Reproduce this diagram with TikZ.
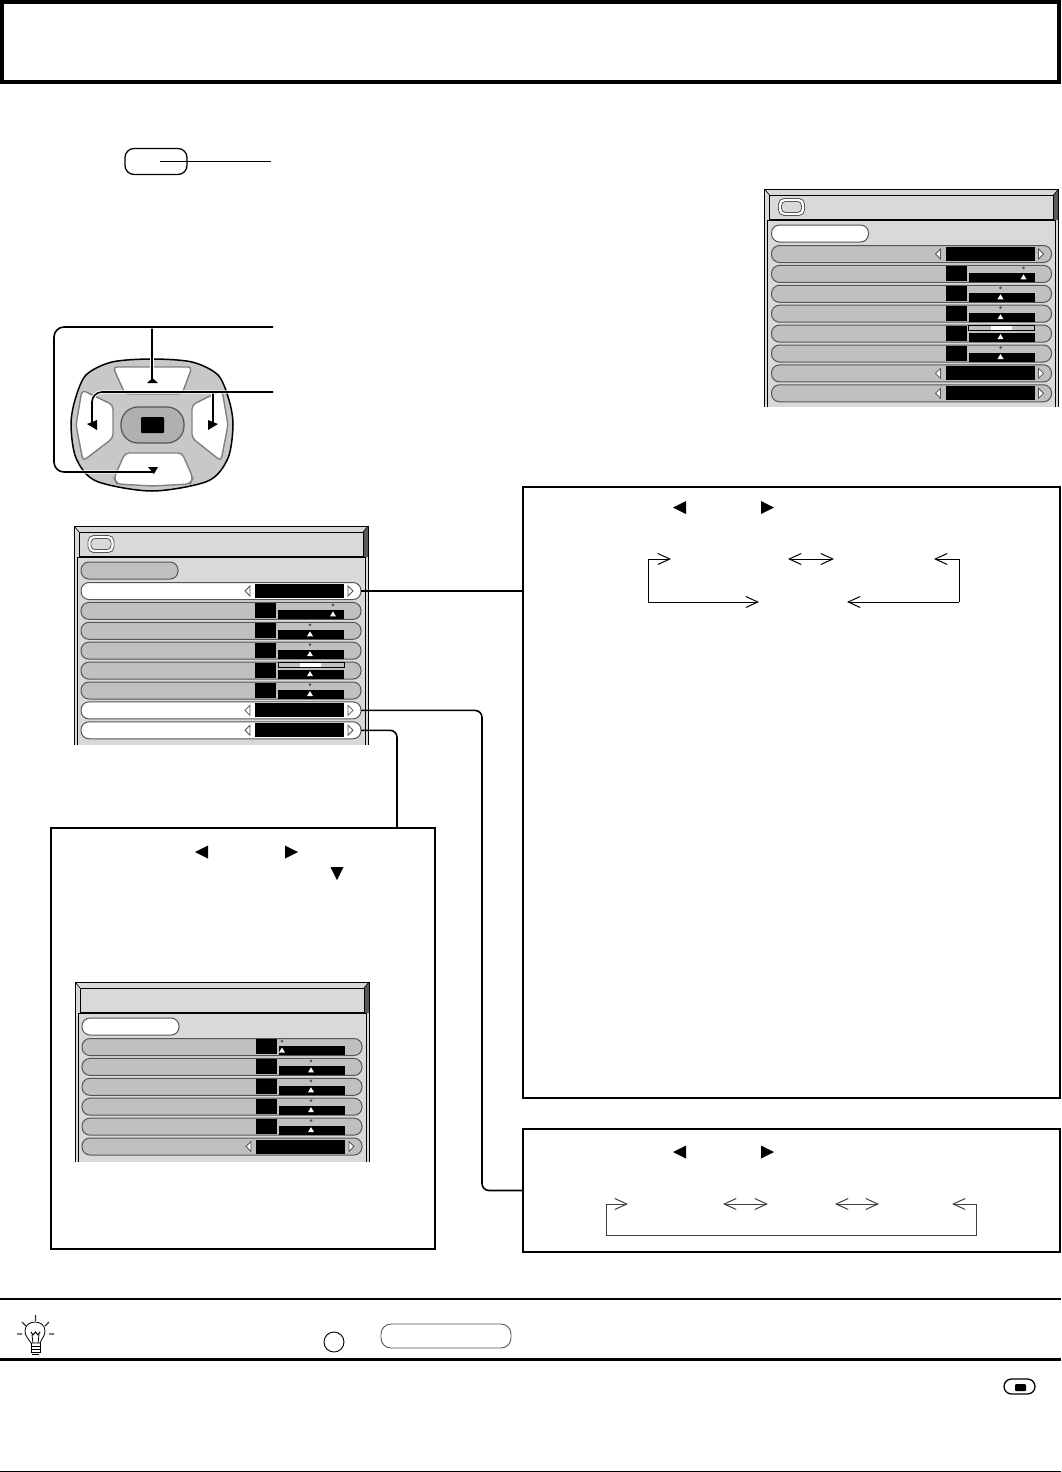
\documentclass[tikz,border=0pt]{standalone}
\usepackage{tikz}
\usetikzlibrary{arrows.meta,positioning}
\definecolor{menubody}{HTML}{D9D9D9}
\definecolor{menurowgray}{HTML}{C0C0C0}
\definecolor{menuedge}{HTML}{555555}
\definecolor{padgray}{HTML}{C8C8C8}
\definecolor{padoval}{HTML}{B0B0B0}
\tikzset{
  infobox/.style={draw, line width=2pt, inner sep=0pt, outer sep=0pt},
  menurow/.style={draw=menuedge, line width=1pt, rounded corners=8pt, minimum height=17pt, inner sep=0pt, outer sep=0pt},
  menuicon/.style={draw=menuedge, fill=white, line width=.8pt, rounded corners=5.5pt, minimum width=26pt, minimum height=17pt, inner sep=0pt},
  menuiconin/.style={draw=menuedge, fill=menubody, line width=.8pt, rounded corners=4pt, minimum width=20pt, minimum height=11pt, inner sep=0pt},
  menutri/.style={draw=menuedge, fill=white, line width=.8pt},
  connector/.style={line width=1.6pt, rounded corners=7pt},
  padline/.style={line width=1.6pt, rounded corners=10pt, preaction={draw=white, line width=3.4pt}},
  padbutton/.style={draw=gray, fill=white, line width=1.4pt, rounded corners=4pt},
  cycline/.style={line width=1pt, -{Straight Barb[length=12pt,width=11pt,line width=1pt]}},
  cycboth/.style={line width=1pt, {Straight Barb[length=12pt,width=11pt,line width=1pt]}-{Straight Barb[length=12pt,width=11pt,line width=1pt]}}
}
\newcommand{\menupanel}[6]{
  \begin{scope}[shift={(#2,#3)}]
    \fill[menubody] (0,0) rectangle (294,#4);
    \fill[gray!70!black] (289,6) -- (294,0) -- (294,31) -- (289,31) -- cycle;
    \draw[line width=1pt] (0,#4) -- (0,0) -- (294,0) -- (294,#4);
    \draw[line width=.6pt] (0,0) -- (5,6) (294,0) -- (289,6);
    \draw[line width=1pt] (5,6) rectangle (289,30);
    \draw[line width=1pt] (3,#4) -- (3,31) -- (291,31) -- (291,#4);
    \node[menurow, fill=#5, minimum width=97pt] (#1pill) at (55.5,44.5) {};
    \foreach \rownum/\rowfill/\rowmark/\rowstrip in {#6}{
      \pgfmathsetmacro\rowy{65+19.9*(\rownum-1)}
      \node[menurow, fill=\rowfill, minimum width=280pt] (#1row\rownum) at (147,\rowy) {};
      \ifnum\rowmark=0
        \draw[menutri] (176,\rowy-5) -- (176,\rowy+5) -- (171,\rowy) -- cycle;
        \draw[menutri] (274,\rowy-5) -- (274,\rowy+5) -- (279,\rowy) -- cycle;
        \fill (181,\rowy-7) rectangle (270,\rowy+7);
      \else
        \fill (181,\rowy-8) rectangle (202,\rowy+7);
        \fill (204,\rowy-1) rectangle (270,\rowy+8);
        \fill[white] (\rowmark-3,\rowy+5.5) -- (\rowmark+3,\rowy+5.5) -- (\rowmark,\rowy+.5) -- cycle;
        \ifnum\rowstrip=1
          \draw[line width=.7pt, fill=menurowgray] (204,\rowy-8) rectangle (270,\rowy-3);
          \fill[white] (226,\rowy-7.6) rectangle (247,\rowy-3.4);
        \else
          \fill[menuedge] (\rowmark,\rowy-6) circle (1.5pt);
        \fi
      \fi
    }
  \end{scope}
}
\begin{document}
\begin{tikzpicture}[x=1pt,y=-1pt]
  \useasboundingbox (0,0) rectangle (1061,1472);

  \node[draw, line width=4pt, minimum width=1057pt, minimum height=80pt, inner sep=0pt] (header) at (530.5,42) {};

  \node[draw, line width=1.3pt, rounded corners=9pt, minimum width=62pt, minimum height=26pt, inner sep=0pt] (menubtn) at (156,161.5) {};
  \coordinate (menuin) at (160,161.5);
  \coordinate (menuout) at (271,161.5);
  \draw[line width=1.6pt] (menuin) -- (menuout);

  \draw[fill=padgray, line width=1.5pt] plot[smooth cycle] coordinates {(152,359) (192,362) (218,375) (229,400) (233,425) (228,458) (208,481) (152,491) (96,481) (76,458) (71,425) (75,400) (86,375) (112,362)};
  \draw[padbutton] (113,367) -- (192,367) -- (182,394) -- (125,394) -- cycle;
  \draw[padbutton] (125,453) -- (182,453) -- (193,478) -- (190,484) -- (152,486) -- (117,484) -- (114,478) -- cycle;
  \draw[padbutton] (82,390) -- (113,405) -- (113,438) -- (83,461) -- (76,425) -- cycle;
  \draw[padbutton] (222,390) -- (192,405) -- (192,438) -- (221,461) -- (228,425) -- cycle;
  \node[draw=menuedge, fill=padoval, line width=1.2pt, rounded corners=17pt, minimum width=63pt, minimum height=36pt, inner sep=0pt] (padmid) at (152.5,425) {};
  \node[fill=black, rounded corners=1pt, minimum width=23pt, minimum height=16pt, inner sep=0pt] (padkey) at (152.5,425) {};

  \coordinate (updown) at (273,327);
  \coordinate (leftright) at (273,392);
  \coordinate (upkey) at (152,380);
  \coordinate (downkey) at (154,472);
  \coordinate (leftkey) at (92,425);
  \coordinate (rightkey) at (213,425);
  \draw[padline] (152,327) -- (upkey);
  \draw[padline] (213,392) -- (rightkey);
  \draw[padline] (updown) -- (54,327) -- (54,472) -- (downkey);
  \draw[padline] (leftright) -- (92,392) -- (leftkey);
  \fill (147,383) -- (152.5,378) -- (158,383) -- cycle;
  \fill (148,467) -- (158,467) -- (154,474) -- cycle;
  \fill (87,424) -- (97,420) -- (97,430) -- cycle;
  \fill (218,424) -- (208,420) -- (208,430) -- cycle;

  \menupanel{top}{764.5}{189}{218}{white}{1/menurowgray/0/0,2/menurowgray/259/0,3/menurowgray/236/0,4/menurowgray/236/0,5/menurowgray/236/1,6/menurowgray/236/0,7/menurowgray/0/0,8/menurowgray/0/0}
  \node[menuicon] (topicon) at (791.5,207) {};
  \node[menuiconin] (topiconin) at (791.5,207) {};

  \menupanel{mid}{74}{526}{219}{menurowgray}{1/white/0/0,2/menurowgray/259/0,3/menurowgray/236/0,4/menurowgray/236/0,5/menurowgray/236/1,6/menurowgray/236/0,7/white/0/0,8/white/0/0}
  \node[menuicon] (midicon) at (101,544) {};
  \node[menuiconin] (midiconin) at (101,544) {};

  \node[infobox, minimum width=537pt, minimum height=611pt] (bigbox) at (791.5,792.5) {};
  \node[infobox, minimum width=537pt, minimum height=123pt, below=31pt of bigbox] (lowbox) {};
  \node[infobox, minimum width=384pt, minimum height=421pt] (leftbox) at (243,1038.5) {};

  \menupanel{low}{75}{982}{180}{white}{1/menurowgray/207/0,2/menurowgray/236/0,3/menurowgray/236/0,4/menurowgray/236/0,5/menurowgray/236/0,6/menurowgray/0/0}

  \coordinate (midturn) at (482,950);
  \coordinate (leftturn) at (397,828);
  \draw[line width=1.6pt] (midrow1.east) -- (midrow1.east -| bigbox.west);
  \draw[connector] (midrow7.east) -| (midturn) |- (lowbox.west);
  \draw[connector] (midrow8.east) -| (leftturn);

  \fill (673,507.5) -- ++(13,-6.5) -- ++(0,13) -- cycle;
  \fill (774,507.5) -- ++(-13,-6.5) -- ++(0,13) -- cycle;
  \fill (673,1152) -- ++(13,-6.5) -- ++(0,13) -- cycle;
  \fill (774,1152) -- ++(-13,-6.5) -- ++(0,13) -- cycle;
  \fill (195,852) -- ++(13,-6.5) -- ++(0,13) -- cycle;
  \fill (298,852) -- ++(-13,-6.5) -- ++(0,13) -- cycle;
  \fill (337,880) -- ++(-6.5,-13) -- ++(13,0) -- cycle;

  \coordinate (cycleleft) at (671,559);
  \coordinate (cyclemidl) at (788,559);
  \coordinate (cyclemidr) at (834,559);
  \coordinate (cycleright) at (934,559);
  \coordinate (cyclelowl) at (759,602);
  \coordinate (cyclelowr) at (847,602);
  \draw[cycline] (648,602) -- (648,559) -- (cycleleft);
  \draw[cycline] (648,602) -- (cyclelowl);
  \draw[cycboth] (cyclemidl) -- (cyclemidr);
  \draw[cycline] (959,602) -- (959,559) -- (cycleright);
  \draw[cycline] (959,602) -- (cyclelowr);

  \coordinate (ringleft) at (628,1204);
  \coordinate (ringal) at (723,1204);
  \coordinate (ringar) at (768,1204);
  \coordinate (ringbl) at (835,1204);
  \coordinate (ringbr) at (879,1204);
  \coordinate (ringright) at (952,1204);
  \draw[cycline, draw=black!75] (606,1235) -- (606,1204) -- (ringleft);
  \draw[cycboth, draw=black!75] (ringal) -- (ringar);
  \draw[cycboth, draw=black!75] (ringbl) -- (ringbr);
  \draw[cycline, draw=black!75] (606,1235) -- (976,1235) -- (976,1204) -- (ringright);

  \draw[line width=2.5pt] (0,1299) -- (1061,1299);
  \draw[line width=2.5pt] (0,1359.5) -- (1061,1359.5);
  \draw[line width=1pt] (0,1471) -- (1061,1471);

  \draw[line width=.8pt] (31,1343) .. controls (28,1338) and (25,1336) .. (25,1331) .. controls (25,1319) and (45,1319) .. (45,1331) .. controls (45,1336) and (42,1338) .. (40,1343) -- cycle;
  \draw[line width=.8pt] (31,1346) -- (40,1346) (31,1349) -- (40,1349) (31,1352) -- (40,1352) (32,1354.5) -- (39,1354.5);
  \draw[line width=.8pt] (31,1343) -- (31,1353) (40,1343) -- (40,1353);
  \draw[line width=1pt] (31,1332) -- (33,1335) -- (35.5,1332) -- (38,1335) -- (40,1332);
  \draw[line width=.8pt] (32,1335) -- (33,1343) (39,1335) -- (38,1343);
  \draw[line width=1.3pt, black!80] (35.5,1315) -- (35.5,1321) (22,1322) -- (26,1326) (49,1322) -- (45,1326) (17,1334) -- (22,1334) (49,1334) -- (54,1334);

  \node[draw, circle, line width=.9pt, minimum size=20pt, inner sep=0pt] (tipdot) at (334,1342) {};
  \node[draw=menuedge, line width=.9pt, rounded corners=10pt, minimum width=130pt, minimum height=24pt, inner sep=0pt] (tippill) at (446,1336) {};

  \node[draw, line width=1.3pt, rounded corners=7.5pt, minimum width=31pt, minimum height=15pt, inner sep=0pt] (exitbtn) at (1019.5,1386.5) {};
  \node[fill=black, rounded corners=1pt, minimum width=11pt, minimum height=7pt, inner sep=0pt] (exitkey) at (1020.5,1387.5) {};
\end{tikzpicture}
\end{document}
